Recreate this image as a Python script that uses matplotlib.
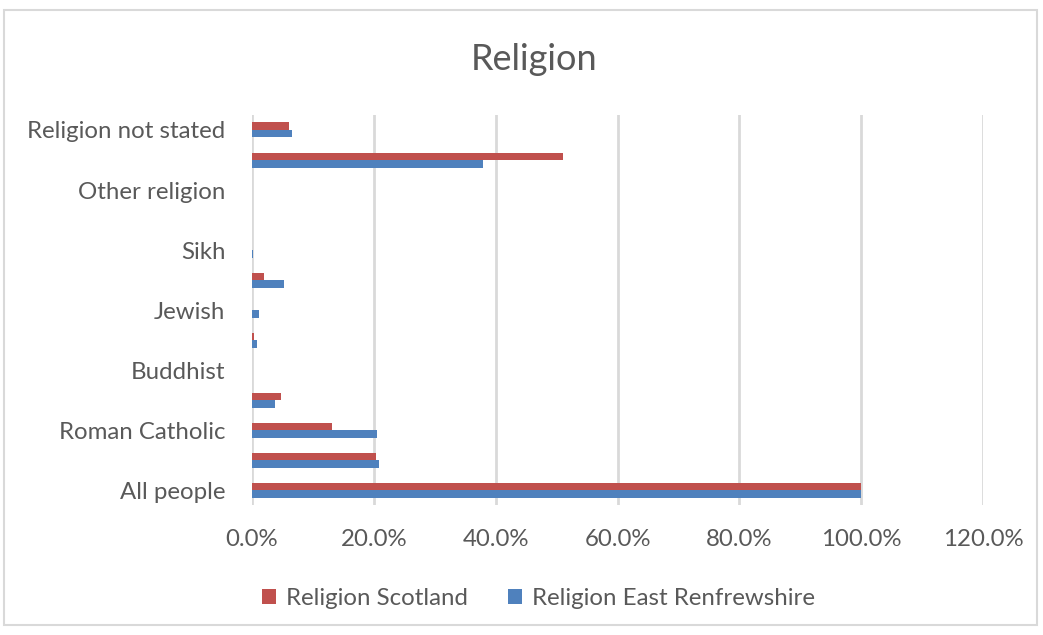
import numpy as np
import matplotlib
matplotlib.use("Agg")
import matplotlib.pyplot as plt
from matplotlib.patches import Rectangle
from matplotlib.ticker import PercentFormatter

# categories bottom -> top, as they sit in the chart
categories = ["All people", "Church of Scotland", "Roman Catholic", "Other Christian",
              "Buddhist", "Hindu", "Jewish", "Muslim", "Sikh", "Pagan",
              "Other religion", "No religion", "Religion not stated"]
scotland = [100.0, 20.3, 13.1, 4.8, 0.0, 0.3, 0.0, 1.9, 0.0, 0.0, 0.0, 51.0, 6.0]
east_renfrewshire = [100.0, 20.9, 20.5, 3.7, 0.0, 0.9, 1.1, 5.3, 0.2, 0.0, 0.0, 37.9, 6.6]
x_ticks = [0, 20, 40, 60, 80, 100, 120]

red = "#C0504D"
blue = "#4F81BD"
text_col = "#595959"
plt.rcParams['font.family'] = ['Lato', 'DejaVu Sans']

fig = plt.figure(figsize=(10.43, 6.35), dpi=100)
fig.patches.append(Rectangle((0.004, 0.015), 0.99, 0.97, transform=fig.transFigure,
                             fill=False, edgecolor="#D9D9D9", linewidth=1.5))
ax = fig.add_axes([0.2416, 0.2047, 0.7009, 0.6142])

y = np.arange(len(categories))
h = 0.25
ax.barh(y + h / 2, scotland, height=h, color=red, label="Religion Scotland", zorder=3)
ax.barh(y - h / 2, east_renfrewshire, height=h, color=blue, label="Religion East Renfrewshire", zorder=3)

ax.set_xlim(0, 120)
ax.set_ylim(-0.5, len(categories) - 0.5)
ax.set_xticks(x_ticks)
ax.xaxis.set_major_formatter(PercentFormatter(decimals=1))
ax.set_yticks(y[::2])
ax.set_yticklabels(categories[::2])
ax.tick_params(axis="both", length=0, labelsize=17.3, labelcolor=text_col)
ax.tick_params(axis="x", pad=17)
ax.tick_params(axis="y", pad=19)
ax.grid(axis="x", color="#D9D9D9", linewidth=2, zorder=0)
for s in ax.spines.values():
    s.set_visible(False)

fig.text(0.512, 0.89, "Religion", ha="center", va="baseline", fontsize=26, color=text_col)
fig.legend(loc="center", bbox_to_anchor=(0.516, 0.058), ncol=2, frameon=False,
           fontsize=17.3, handlelength=0.6, handleheight=0.6, columnspacing=1.65,
           handletextpad=0.4, labelcolor=text_col)

fig.savefig("out.png", dpi=100)
